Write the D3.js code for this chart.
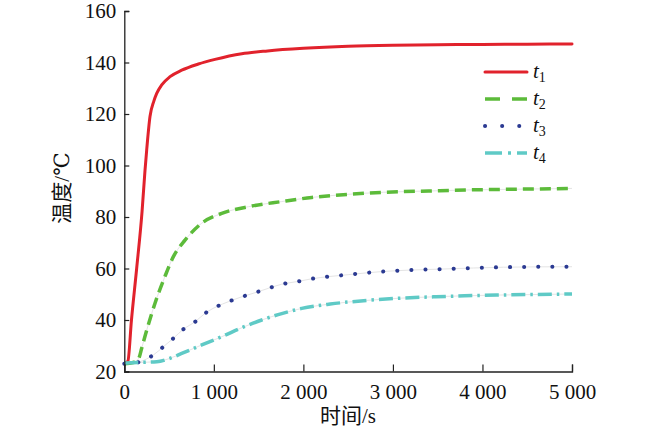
<!DOCTYPE html>
<html>
<head>
<meta charset="utf-8">
<script src="https://cdn.jsdelivr.net/npm/d3@7"></script>
<style>
  body { margin: 0; background: #fff; }
  svg text { font-family: 'Liberation Serif', 'Times New Roman', 'DejaVu Serif', 'Noto Sans CJK SC', serif; fill: #111; }
</style>
</head>
<body>
<svg id="chart"></svg>
<script>
// series (time in s, temperature in °C)
const t1Time = [0, 40, 80, 138, 198, 231, 250, 287, 330, 362, 418, 511, 641, 827, 1013, 1312, 1600, 2000, 2500, 3000, 3500, 4000, 4500, 5000];
const t1Temp = [23, 24, 40, 60, 82, 98, 106, 119, 125, 128, 131.3, 134.5, 137, 139.4, 141.2, 143.4, 144.5, 145.5, 146.3, 146.7, 146.9, 147, 147.1, 147.2];

const t2Time = [0, 100, 160, 194, 250, 343, 455, 548, 678, 865, 1088, 1386, 1758, 2094, 2500, 2894, 3400, 3826, 4400, 5000];
const t2Temp = [23, 23.5, 25, 29, 36, 46.5, 57, 64.6, 71, 77.6, 81.4, 84, 86, 87.6, 88.8, 89.6, 90.1, 90.5, 90.8, 91.1];

const t3Time = [0, 100, 175, 324, 436, 548, 659, 790, 902, 1032, 1162, 1312, 1460, 1609, 1758, 1926, 2094, 2500, 2876, 3200, 3564, 4235, 5000];
const t3Temp = [23, 23.2, 23.8, 26.4, 29.6, 32.9, 36.4, 39.3, 42.6, 45.2, 47.1, 49, 50.6, 52.3, 53.9, 54.9, 56, 57.6, 58.8, 59.4, 59.8, 60.5, 60.7];

const t4Time = [0, 150, 362, 500, 641, 865, 1088, 1312, 1535, 1758, 1982, 2300, 2708, 3100, 3453, 3800, 4198, 5000];
const t4Temp = [23.3, 23.5, 23.8, 25, 27, 30.3, 33.5, 37, 40, 42.5, 44.5, 46.2, 47.6, 48.5, 49, 49.4, 49.7, 50.1];

const seriesNames = ['1', '2', '3', '4'];
const xTicks = [0, 1000, 2000, 3000, 4000, 5000];
const yTicks = [20, 40, 60, 80, 100, 120, 140, 160];

const width = 650, height = 432;
const margin = {top: 11, right: 78, bottom: 60.5, left: 124.3};
const innerW = width - margin.left - margin.right;
const innerH = height - margin.top - margin.bottom;
const serif = "'Liberation Serif', 'Times New Roman', 'DejaVu Serif', serif";

const svg = d3.select('#chart')
  .attr('width', width)
  .attr('height', height);

const chart = svg.append('g')
  .attr('transform', `translate(${margin.left},${margin.top})`);

const xScale = d3.scaleLinear().domain([0, 5000]).range([0, innerW]);
const yScale = d3.scaleLinear().domain([20, 160]).range([innerH, 0]);

const styles = [
  {color: '#e1222c', width: 3, dash: null, cap: 'round'},
  {color: '#5cbb3a', width: 3.5, dash: '11,6', cap: 'butt'},
  {color: '#2b3a92', width: 4, dash: '0.1,14', cap: 'round'},
  {color: '#5fcac6', width: 3.5, dash: '14,5,2.5,5', cap: 'butt'}
];

const series = [
  d3.zip(t1Time, t1Temp),
  d3.zip(t2Time, t2Temp),
  d3.zip(t3Time, t3Temp),
  d3.zip(t4Time, t4Temp)
];

const line = d3.line()
  .x(d => xScale(d[0]))
  .y(d => yScale(d[1]))
  .curve(d3.curveMonotoneX);

// faint guide lines under the broken series
series.slice(1).forEach(s => {
  chart.append('path')
    .datum(s)
    .attr('fill', 'none')
    .attr('stroke', '#e4e4e4')
    .attr('stroke-width', 1)
    .attr('d', line);
});

series.forEach((s, i) => {
  chart.append('path')
    .datum(s)
    .attr('fill', 'none')
    .attr('stroke', styles[i].color)
    .attr('stroke-width', styles[i].width)
    .attr('stroke-dasharray', styles[i].dash)
    .attr('stroke-linecap', styles[i].cap)
    .attr('stroke-linejoin', 'round')
    .attr('d', line);
});

const fmt = d => d === 0 ? '0' : d3.format(',')(d).replace(',', ' ');

const xAxis = d3.axisBottom(xScale)
  .tickValues(xTicks)
  .tickSize(-7)
  .tickPadding(13)
  .tickFormat(fmt);

const yAxis = d3.axisLeft(yScale)
  .tickValues(yTicks)
  .tickSize(-5)
  .tickPadding(8);

chart.append('g')
  .attr('transform', `translate(0,${innerH})`)
  .call(xAxis)
  .attr('font-family', serif)
  .attr('font-size', 21)
  .call(g => g.select('.domain').attr('stroke', '#222').attr('stroke-width', 1.3))
  .call(g => g.selectAll('.tick line').attr('stroke', '#222').attr('stroke-width', 1.2))
  .call(g => g.selectAll('.tick text').attr('fill', '#111'));

chart.append('g')
  .call(yAxis)
  .attr('font-family', serif)
  .attr('font-size', 21)
  .call(g => g.select('.domain').attr('stroke', '#222').attr('stroke-width', 1.3))
  .call(g => g.selectAll('.tick line').attr('stroke', '#222').attr('stroke-width', 1.2))
  .call(g => g.selectAll('.tick text').attr('fill', '#111'));

// axis titles
svg.append('text')
  .attr('x', 348)
  .attr('y', 423)
  .attr('text-anchor', 'middle')
  .attr('font-size', 21)
  .text('时间/s');

svg.append('text')
  .attr('transform', 'translate(69,188) rotate(-90)')
  .attr('text-anchor', 'middle')
  .attr('font-size', 21)
  .text('温度/℃');

// legend
const legend = svg.append('g').attr('transform', 'translate(484,72)');
const rowY = d3.scalePoint().domain(seriesNames).range([0, 81]);

seriesNames.forEach((name, i) => {
  const row = legend.append('g').attr('transform', `translate(0,${rowY(name)})`);
  row.append('line')
    .attr('x1', 1).attr('x2', 43)
    .attr('stroke', styles[i].color)
    .attr('stroke-width', styles[i].width)
    .attr('stroke-dasharray', i === 1 ? '15,12' : i === 2 ? '0.1,17' : i === 3 ? '17,6,3,6' : null)
    .attr('stroke-linecap', styles[i].cap);
  const label = row.append('text')
    .attr('x', 49)
    .attr('y', 6)
    .attr('font-size', 21);
  label.append('tspan').attr('font-style', 'italic').text('t');
  label.append('tspan')
    .attr('font-size', 14)
    .attr('dy', 4)
    .text(name);
});
</script>
</body>
</html>
